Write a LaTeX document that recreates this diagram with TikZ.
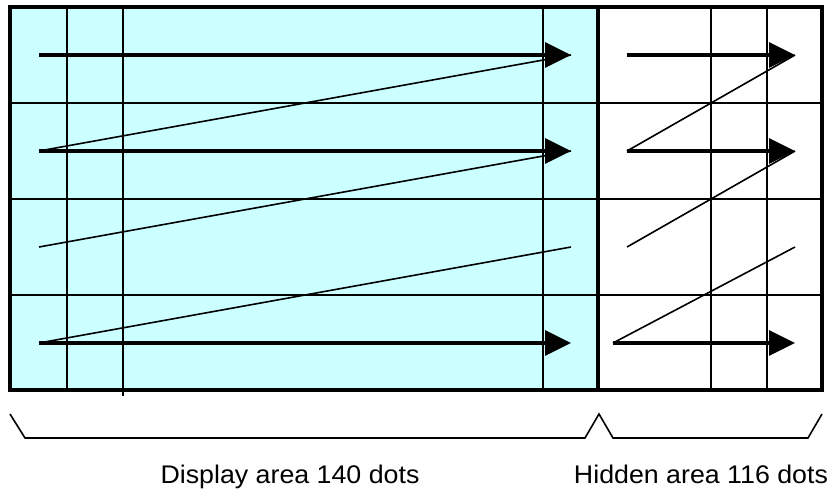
\documentclass[tikz,border=0pt]{standalone}
\usepackage{fontspec}
\newfontfamily\labelfont[FakeStretch=1.05]{Liberation Sans}
\usetikzlibrary{arrows.meta}
\definecolor{displaycyan}{HTML}{CCFFFF}
\tikzset{
  frame/.style={draw=black, line width=4pt},
  divider/.style={draw=black, line width=3.2pt},
  gridline/.style={draw=black, line width=1.6pt},
  scan/.style={-{Triangle[length=26pt,width=25pt]}, draw=black, line width=3.5pt},
  retrace/.style={draw=black, line width=1.6pt},
  brace/.style={draw=black, line width=1.6pt},
  label/.style={font=\labelfont\fontsize{25.5}{30}\selectfont, anchor=base}
}

\begin{document}
\begin{tikzpicture}[x=1pt, y=-1pt]
  \useasboundingbox (0,0) rectangle (831,491);
  \coordinate (NW) at (10,7);
  \coordinate (SE) at (822,390);
  \coordinate (DN) at (598,7);
  \coordinate (DS) at (598,390);
  \fill[displaycyan] (NW) rectangle (DS);
  % grid
  \foreach \y in {103,199,295}
    \draw[gridline] (10,\y) -- (822,\y);
  \foreach \x in {67,543,711,767}
    \draw[gridline] (\x,7) -- (\x,390);
  \draw[gridline] (123,7) -- (123,396);
  % scan lines
  \foreach \row/\y in {1/55,2/151,3/247,4/343} {
    \coordinate (ds\row) at (39,\y);
    \coordinate (de\row) at (571,\y);
    \coordinate (he\row) at (795,\y);
  }
  \coordinate (hs1) at (627,55);
  \coordinate (hs2) at (627,151);
  \coordinate (hs3) at (627,247);
  \coordinate (hs4) at (613,343);
  \draw[retrace] (ds2) -- (de1);
  \draw[retrace] (ds3) -- (de2);
  \draw[retrace] (ds4) -- (de3);
  \draw[retrace] (hs2) -- (he1);
  \draw[retrace] (hs3) -- (he2);
  \draw[retrace] (hs4) -- (he3);
  \foreach \row in {1,2,4} {
    \draw[scan] (ds\row) -- (de\row);
    \draw[scan] (hs\row) -- (he\row);
  }
  \draw[frame] (NW) rectangle (SE);
  \draw[divider] (DN) -- (DS);
  % braces
  \coordinate (bl) at (10,414);
  \coordinate (bm) at (599,414);
  \coordinate (br) at (822,414);
  \draw[brace] (bl) -- (25,438) -- (585,438) -- (bm) -- (613,438) -- (808,438) -- (br);
  \node[label] (disptext) at (290,483) {Display area 140 dots};
  \node[label] (hidetext) at (701,483) {Hidden area 116 dots};
\end{tikzpicture}
\end{document}
